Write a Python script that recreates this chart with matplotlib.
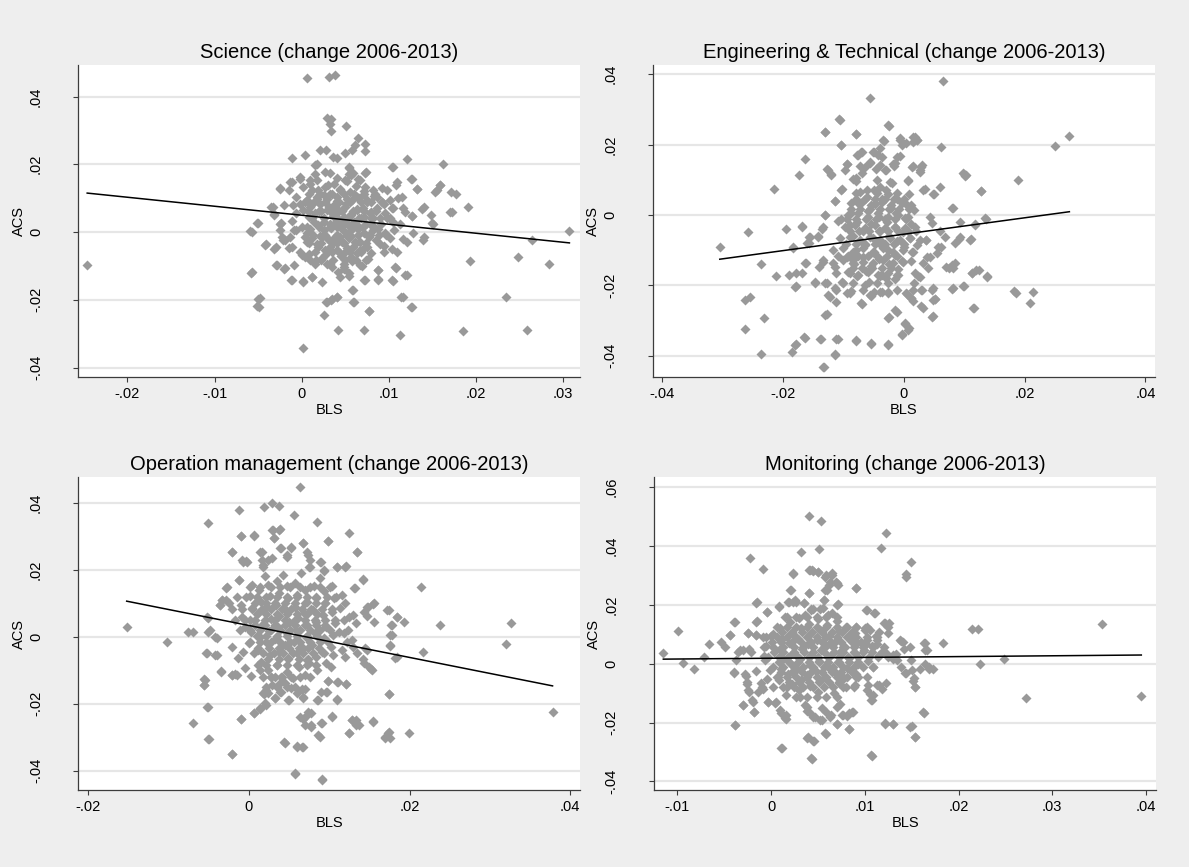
import matplotlib.pyplot as plt
import numpy as np

plt.rcParams['font.family'] = ['Liberation Sans', 'DejaVu Sans']

# BLS change (x), ACS change (y)
science_pts = [
    (-0.0246, -0.0098), (0.0006, 0.0456), (0.0031, 0.0458), (0.0038, 0.0465), (0.0029, 0.0338),
    (0.0034, 0.0335), (0.0032, 0.0318), (0.0034, 0.0297), (0.0051, 0.0312), (0.0064, 0.0277),
    (0.0061, 0.0256), (0.0073, 0.0261), (0.0073, 0.0239), (0.0021, 0.0243), (0.0028, 0.0243),
    (0.0036, 0.0221), (0.0040, 0.0218), (0.0004, 0.0228), (-0.0011, 0.0218), (0.0050, 0.0233),
    (0.0058, 0.0241), (0.0121, 0.0215), (0.0162, 0.0200), (0.0104, 0.0192), (0.0015, 0.0197),
    (0.0054, 0.0192), (0.0073, 0.0174), (0.0125, 0.0157), (0.0159, 0.0140), (0.0153, 0.0118),
    (0.0171, 0.0118), (0.0177, 0.0113), (0.0132, 0.0126), (0.0108, 0.0140), (0.0191, 0.0074),
    (0.0172, 0.0059), (0.0138, 0.0069), (0.0148, 0.0049), (0.0149, 0.0027), (0.0126, 0.0046),
    (0.0307, 0.0003), (0.0264, -0.0022), (0.0139, -0.0022), (0.0193, -0.0084), (0.0248, -0.0074),
    (0.0284, -0.0093), (0.0234, -0.0192), (0.0258, -0.0288), (0.0185, -0.0292), (0.0113, -0.0305),
    (0.0125, -0.0221), (0.0114, -0.0192), (0.0119, -0.0128), (0.0108, -0.0106), (0.0104, -0.0143),
    (0.0088, -0.0141), (0.0087, -0.0111), (0.0077, -0.0233), (0.0072, -0.0288), (0.0059, -0.0207),
    (0.0058, -0.0172), (0.0072, -0.0141), (0.0054, -0.0131), (0.0042, -0.0288), (0.0040, -0.0192),
    (0.0034, -0.0200), (0.0028, -0.0207), (0.0025, -0.0246), (0.0001, -0.0342), (0.0001, -0.0148),
    (0.0023, -0.0148), (0.0012, -0.0133), (-0.0012, -0.0141), (-0.0020, -0.0108), (-0.0009, -0.0098),
    (-0.0030, -0.0098), (-0.0050, -0.0197), (-0.0051, -0.0219), (-0.0058, -0.0121), (-0.0042, -0.0037),
    (-0.0032, -0.0049), (-0.0059, 0.0002), (-0.0050, 0.0027), (-0.0035, 0.0074), (-0.0032, 0.0051),
    (-0.0024, 0.0027), (-0.0025, 0.0128), (-0.0013, 0.0148), (-0.0020, 0.0079), (-0.0025, 0.0005),
    (-0.0021, -0.0023), (-0.0015, -0.0046), (-0.0009, 0.0005), (-0.0011, 0.0034), (-0.0007, 0.0056),
    (-0.0002, 0.0162), (0.0009, 0.0154), (0.0000, -0.0069), (0.0008, -0.0064), (0.0004, -0.0015),
    (0.0004, 0.0089), (0.0015, 0.0172),
]
science_core = [
    (0.0012, 0.0125), (0.0018, 0.0098), (0.0022, 0.0061), (0.0025, 0.0030), (0.0021, -0.0012),
    (0.0019, -0.0045), (0.0016, -0.0082), (0.0030, 0.0140), (0.0033, 0.0112), (0.0031, 0.0075),
    (0.0036, 0.0048), (0.0034, 0.0012), (0.0030, -0.0020), (0.0035, -0.0058), (0.0032, -0.0095),
    (0.0040, 0.0160), (0.0044, 0.0128), (0.0041, 0.0092), (0.0046, 0.0066), (0.0043, 0.0035),
    (0.0047, 0.0005), (0.0041, -0.0032), (0.0045, -0.0071), (0.0048, -0.0110), (0.0052, 0.0150),
    (0.0055, 0.0118), (0.0051, 0.0082), (0.0057, 0.0052), (0.0053, 0.0021), (0.0056, -0.0012),
    (0.0052, -0.0048), (0.0058, -0.0085), (0.0062, 0.0135), (0.0066, 0.0100), (0.0063, 0.0068),
    (0.0068, 0.0040), (0.0064, 0.0008), (0.0067, -0.0028), (0.0063, -0.0062), (0.0072, 0.0122),
    (0.0075, 0.0088), (0.0078, 0.0057), (0.0074, 0.0025), (0.0077, -0.0008), (0.0073, -0.0045),
    (0.0076, -0.0080), (0.0083, 0.0105), (0.0086, 0.0072), (0.0082, 0.0040), (0.0088, 0.0010),
    (0.0085, -0.0022), (0.0092, 0.0090), (0.0095, 0.0055), (0.0091, 0.0025), (0.0097, -0.0010),
    (0.0094, -0.0040), (0.0008, 0.0045), (0.0010, 0.0010), (0.0006, -0.0030), (0.0011, 0.0080),
    (0.0026, 0.0108), (0.0038, 0.0028), (0.0049, 0.0045), (0.0060, 0.0030), (0.0044, -0.0015),
    (0.0058, 0.0095), (0.0070, 0.0072), (0.0039, 0.0072), (0.0027, -0.0068), (0.0048, -0.0095),
    (0.0069, -0.0100), (0.0080, 0.0020), (0.0054, 0.0170), (0.0064, 0.0158), (0.0101, 0.0040),
    (0.0104, 0.0070), (0.0106, 0.0005), (0.0103, -0.0050), (0.0110, 0.0100), (0.0113, 0.0025),
    (0.0118, 0.0060), (0.0116, -0.0020),
    (0.0017, 0.0201), (0.0027, 0.0178), (0.0033, 0.0173), (0.0054, 0.0188), (0.0056, 0.0168),
    (0.0074, 0.0178), (0.0105, 0.0193), (0.0126, 0.0158), (0.0132, 0.0126), (0.0109, 0.0148),
    (0.0115, 0.0104), (0.0140, 0.0073), (0.0150, 0.0025), (0.0159, 0.0139), (0.0155, 0.0124),
    (0.0170, 0.0060), (0.0126, 0.0047), (0.0116, 0.0070), (0.0140, -0.0014), (0.0128, -0.0004),
    (0.0121, -0.0029), (0.0109, -0.0058), (0.0107, -0.0103), (0.0121, -0.0127), (0.0105, -0.0144),
    (0.0116, -0.0191), (0.0126, -0.0221), (0.0094, -0.0058), (0.0088, -0.0112), (0.0088, -0.0140),
    (0.0073, -0.0142), (0.0079, -0.0063), (0.0067, -0.0098), (0.0059, -0.0171), (0.0060, -0.0206),
    (0.0077, -0.0232), (0.0029, -0.0205), (0.0035, -0.0199), (0.0041, -0.0193), (0.0012, -0.0132),
    (0.0002, -0.0144), (-0.0011, -0.0142), (-0.0019, -0.0105), (-0.0028, -0.0098), (-0.0030, -0.0044),
    (-0.0041, -0.0034), (-0.0051, 0.0027), (-0.0057, 0.0001), (-0.0048, -0.0196), (-0.0049, -0.0221),
    (-0.0057, -0.0117), (-0.0025, 0.0025), (-0.0023, -0.0014), (-0.0019, -0.0024), (-0.0011, -0.0044),
    (-0.0002, -0.0058), (0.0004, -0.0073), (0.0010, -0.0083), (0.0015, -0.0093), (0.0023, -0.0078),
    (0.0029, -0.0093), (0.0035, -0.0103), (0.0042, -0.0117), (0.0048, -0.0103), (0.0044, -0.0132),
    (0.0054, -0.0120), (-0.0013, -0.0014), (-0.0006, 0.0006), (-0.0015, 0.0124), (-0.0025, 0.0129),
    (-0.0011, 0.0148), (-0.0002, 0.0158), (-0.0007, 0.0104), (-0.0010, 0.0079), (-0.0033, 0.0075),
    (-0.0032, 0.0053), (0.0002, 0.0134), (0.0010, 0.0143), (0.0017, 0.0153), (0.0019, 0.0124),
    (0.0027, 0.0134), (0.0037, 0.0143), (0.0044, 0.0124), (0.0050, 0.0153), (0.0059, 0.0173),
    (0.0067, 0.0153), (0.0073, 0.0134), (0.0082, 0.0124), (0.0092, 0.0129), (0.0098, 0.0124),
    (0.0086, 0.0104), (0.0101, 0.0094), (0.0094, 0.0084), (0.0105, 0.0070), (0.0098, 0.0040),
    (0.0105, 0.0030), (0.0096, -0.0004), (0.0101, -0.0019), (0.0090, -0.0034), (0.0082, 0.0006),
    (0.0077, -0.0014), (0.0071, -0.0004), (0.0075, -0.0043), (0.0067, -0.0053), (0.0059, -0.0043),
    (0.0056, -0.0073), (0.0048, -0.0063), (0.0040, -0.0053), (0.0033, -0.0043), (0.0027, -0.0053),
    (0.0017, -0.0034), (0.0012, -0.0019), (0.0006, -0.0004), (0.0000, 0.0016), (0.0002, 0.0065),
    (0.0010, 0.0075), (0.0015, 0.0055), (0.0021, 0.0084), (0.0029, 0.0065), (0.0037, 0.0080),
    (0.0042, 0.0060), (0.0050, 0.0075), (0.0056, 0.0050), (0.0063, 0.0065), (0.0071, 0.0045),
    (0.0079, 0.0060), (0.0033, 0.0025), (0.0040, 0.0016), (0.0048, 0.0030), (0.0056, 0.0006),
    (0.0063, 0.0020), (0.0025, 0.0006), (0.0019, 0.0021), (0.0014, 0.0030), (0.0023, -0.0014),
    (0.0031, -0.0024), (0.0038, -0.0014), (0.0046, -0.0029), (0.0054, -0.0019), (0.0061, -0.0029),
    (0.0017, 0.0104), (0.0029, 0.0099), (0.0040, 0.0104), (0.0052, 0.0099), (0.0063, 0.0104),
    (0.0075, 0.0094), (0.0006, 0.0094), (-0.0002, 0.0084),
    (0.0008, 0.0112), (0.0021, 0.0112), (0.0035, 0.0112), (0.0048, 0.0112), (0.0060, 0.0112),
    (0.0071, 0.0112), (0.0084, 0.0112), (0.0014, 0.0088), (0.0027, 0.0088), (0.0043, 0.0088),
    (0.0055, 0.0088), (0.0068, 0.0088), (0.0080, 0.0088), (0.0092, 0.0088), (0.0007, 0.0063),
    (0.0020, 0.0063), (0.0033, 0.0063), (0.0046, 0.0063), (0.0059, 0.0063), (0.0072, 0.0063),
    (0.0085, 0.0063), (0.0012, 0.0040), (0.0026, 0.0040), (0.0040, 0.0040), (0.0053, 0.0040),
    (0.0066, 0.0040), (0.0079, 0.0040), (0.0090, 0.0040), (0.0006, 0.0016), (0.0020, 0.0016),
    (0.0033, 0.0016), (0.0045, 0.0016), (0.0058, 0.0016), (0.0070, 0.0016), (0.0083, 0.0016),
    (0.0013, -0.0008), (0.0027, -0.0008), (0.0040, -0.0008), (0.0052, -0.0008), (0.0065, -0.0008),
    (0.0078, -0.0008), (0.0089, -0.0008), (0.0008, -0.0033), (0.0022, -0.0033), (0.0036, -0.0033),
    (0.0049, -0.0033), (0.0062, -0.0033), (0.0074, -0.0033), (0.0015, -0.0058), (0.0029, -0.0058),
    (0.0043, -0.0058), (0.0055, -0.0058), (0.0068, -0.0058), (0.0022, -0.0083), (0.0036, -0.0083),
    (0.0050, -0.0083), (0.0062, -0.0083), (0.0074, -0.0083),
]

engineering_pts = [
    (-0.0305, -0.0090), (-0.0258, -0.0050), (-0.0236, -0.0139), (-0.0215, 0.0074), (-0.0212, -0.0173),
    (-0.0264, -0.0243), (-0.0255, -0.0232), (-0.0264, -0.0324), (-0.0231, -0.0293), (-0.0236, -0.0395),
    (-0.0185, -0.0391), (-0.0179, -0.0367), (-0.0165, -0.0348), (-0.0133, -0.0433), (-0.0115, -0.0395),
    (-0.0138, -0.0352), (-0.0110, -0.0352), (-0.0079, -0.0357), (-0.0054, -0.0364), (-0.0027, -0.0367),
    (-0.0004, -0.0339), (0.0008, -0.0322), (0.0002, -0.0307), (-0.0014, -0.0270), (-0.0025, -0.0290),
    (0.0048, -0.0287), (0.0029, -0.0258), (0.0051, -0.0238), (0.0048, -0.0209), (0.0030, -0.0213),
    (0.0081, -0.0209), (0.0099, -0.0201), (0.0116, -0.0265), (0.0113, -0.0164), (0.0124, -0.0156),
    (0.0138, -0.0175), (0.0183, -0.0215), (0.0186, -0.0222), (0.0214, -0.0219), (0.0208, -0.0251),
    (0.0189, 0.0099), (0.0251, 0.0196), (0.0274, 0.0224), (0.0065, 0.0380), (0.0062, 0.0194),
    (0.0099, 0.0116), (0.0103, 0.0113), (0.0127, 0.0068), (0.0081, 0.0019), (0.0136, -0.0011),
    (0.0118, -0.0026), (0.0093, -0.0019), (0.0111, -0.0068), (0.0091, -0.0068), (0.0080, -0.0142),
    (0.0075, -0.0151), (0.0084, -0.0137), (0.0059, -0.0045), (0.0062, -0.0090), (0.0037, -0.0071),
    (0.0039, -0.0120), (0.0040, -0.0151), (0.0024, -0.0173), (0.0011, -0.0132), (0.0035, 0.0074),
    (0.0048, 0.0060), (0.0007, 0.0096), (0.0030, 0.0142), (0.0027, 0.0128), (0.0015, 0.0139),
    (0.0018, 0.0222), (0.0021, 0.0213), (0.0015, 0.0208), (-0.0006, 0.0219), (-0.0004, 0.0199),
    (-0.0025, 0.0253), (-0.0033, 0.0210), (-0.0039, 0.0189), (-0.0049, 0.0180), (-0.0036, 0.0165),
    (-0.0006, 0.0168), (-0.0014, 0.0147), (-0.0017, 0.0140), (-0.0031, 0.0128), (-0.0046, 0.0130),
    (-0.0056, 0.0147), (-0.0057, 0.0331), (-0.0079, 0.0229), (-0.0077, 0.0170), (-0.0071, 0.0180),
    (-0.0073, 0.0140), (-0.0084, 0.0102), (-0.0080, 0.0095), (-0.0106, 0.0271), (-0.0105, 0.0199),
    (-0.0095, 0.0145), (-0.0130, 0.0236), (-0.0127, 0.0130), (-0.0120, 0.0116), (-0.0105, 0.0071),
    (-0.0115, 0.0040), (-0.0130, 0.0000), (-0.0109, -0.0017), (-0.0105, -0.0011), (-0.0164, 0.0158),
    (-0.0174, 0.0113), (-0.0169, -0.0033), (-0.0195, -0.0041), (-0.0158, -0.0064), (-0.0158, -0.0080),
    (-0.0183, -0.0095), (-0.0162, -0.0137), (-0.0169, -0.0165), (-0.0191, -0.0170), (-0.0179, -0.0203),
    (-0.0148, -0.0194), (-0.0143, -0.0060), (-0.0136, -0.0041), (-0.0130, -0.0194), (-0.0128, -0.0282),
    (-0.0125, -0.0229), (-0.0112, -0.0249), (-0.0115, -0.0208), (-0.0103, -0.0192), (-0.0094, -0.0222),
    (-0.0087, -0.0215), (-0.0071, -0.0251), (-0.0068, -0.0213), (-0.0055, -0.0230), (-0.0049, -0.0220),
    (-0.0036, -0.0219), (-0.0027, -0.0220), (-0.0027, -0.0194), (-0.0039, -0.0175), (-0.0014, -0.0183),
    (-0.0011, -0.0172), (0.0005, -0.0224), (0.0011, -0.0236), (0.0015, -0.0246), (0.0016, -0.0194),
    (0.0018, -0.0165), (-0.0134, -0.0128), (-0.0141, -0.0147), (-0.0115, -0.0147), (-0.0109, -0.0118),
    (-0.0090, -0.0165), (-0.0084, -0.0128), (-0.0077, -0.0175),
]
engineering_core = [
    (-0.0085, -0.0060), (-0.0080, -0.0100), (-0.0082, -0.0140), (-0.0078, -0.0020), (-0.0075, 0.0030),
    (-0.0072, 0.0065), (-0.0068, -0.0045), (-0.0065, -0.0085), (-0.0067, -0.0120), (-0.0063, -0.0160),
    (-0.0060, 0.0010), (-0.0062, 0.0050), (-0.0055, -0.0025), (-0.0052, -0.0065), (-0.0050, -0.0105),
    (-0.0054, -0.0145), (-0.0048, 0.0030), (-0.0050, 0.0070), (-0.0042, -0.0005), (-0.0040, -0.0045),
    (-0.0038, -0.0085), (-0.0041, -0.0125), (-0.0037, -0.0170), (-0.0036, 0.0045), (-0.0039, 0.0080),
    (-0.0028, -0.0020), (-0.0025, -0.0060), (-0.0027, -0.0100), (-0.0024, -0.0140), (-0.0022, 0.0020),
    (-0.0026, 0.0060), (-0.0015, -0.0035), (-0.0012, -0.0075), (-0.0014, -0.0115), (-0.0010, -0.0155),
    (-0.0013, 0.0005), (-0.0011, 0.0045), (-0.0002, -0.0050), (0.0000, -0.0090), (-0.0003, -0.0130),
    (0.0002, -0.0010), (0.0004, 0.0030), (0.0010, -0.0065), (0.0013, -0.0105), (0.0012, -0.0025),
    (0.0016, 0.0015), (0.0020, -0.0045), (0.0022, -0.0085), (-0.0090, -0.0030), (-0.0095, -0.0120),
    (-0.0088, 0.0005), (-0.0058, -0.0190), (-0.0030, -0.0180), (-0.0045, 0.0100), (-0.0020, 0.0090),
    (0.0008, 0.0060),
    (-0.0107, 0.0272), (-0.0131, 0.0236), (-0.0079, 0.0230), (-0.0026, 0.0255), (-0.0105, 0.0200),
    (-0.0070, 0.0180), (-0.0076, 0.0170), (-0.0051, 0.0180), (-0.0043, 0.0170), (-0.0034, 0.0213),
    (-0.0007, 0.0213), (0.0004, 0.0203), (0.0015, 0.0222), (0.0021, 0.0213), (-0.0012, 0.0165),
    (-0.0018, 0.0146), (-0.0029, 0.0127), (-0.0040, 0.0142), (-0.0057, 0.0151), (-0.0065, 0.0137),
    (-0.0070, 0.0118), (-0.0079, 0.0104), (-0.0095, 0.0146), (-0.0098, 0.0127), (-0.0126, 0.0127),
    (-0.0120, 0.0113), (0.0014, 0.0137), (0.0029, 0.0137), (0.0026, 0.0123), (0.0007, 0.0099),
    (-0.0023, 0.0094), (0.0060, 0.0080), (0.0032, 0.0071), (0.0049, 0.0058), (0.0097, 0.0118),
    (0.0101, 0.0110), (0.0127, 0.0068), (-0.0103, 0.0073), (-0.0114, 0.0039), (-0.0131, 0.0000),
    (-0.0169, -0.0034), (-0.0183, -0.0092), (-0.0134, -0.0034), (-0.0142, -0.0062), (-0.0156, -0.0062),
    (-0.0161, -0.0081), (-0.0178, -0.0166), (-0.0181, -0.0204), (-0.0164, -0.0138), (-0.0148, -0.0190),
    (-0.0128, -0.0195), (-0.0131, -0.0285), (-0.0164, -0.0351), (-0.0181, -0.0370), (-0.0139, -0.0354),
    (-0.0112, -0.0354), (-0.0114, -0.0399), (-0.0134, -0.0432), (-0.0080, -0.0358), (-0.0054, -0.0367),
    (-0.0026, -0.0370), (-0.0026, -0.0294), (-0.0012, -0.0275), (0.0001, -0.0309), (0.0007, -0.0326),
    (-0.0004, -0.0342), (0.0031, -0.0266), (0.0047, -0.0290), (0.0051, -0.0240), (0.0115, -0.0266),
    (0.0080, -0.0212), (0.0098, -0.0202), (0.0081, -0.0152), (0.0070, -0.0147), (0.0112, -0.0164),
    (0.0120, -0.0157), (0.0137, -0.0176), (0.0093, -0.0062), (0.0109, -0.0072), (0.0084, -0.0081),
    (0.0079, 0.0019), (0.0118, -0.0029), (0.0134, -0.0010), (0.0068, -0.0062), (0.0057, -0.0090),
    (0.0054, -0.0109), (0.0037, -0.0072), (0.0043, -0.0119), (0.0032, -0.0138), (0.0026, -0.0176),
    (0.0046, -0.0024), (0.0043, -0.0005), (0.0015, -0.0214), (0.0029, -0.0214), (0.0046, -0.0214),
    (0.0048, -0.0242), (0.0004, -0.0223), (0.0012, -0.0237), (-0.0012, -0.0214), (-0.0026, -0.0223),
    (-0.0040, -0.0219), (-0.0057, -0.0228), (-0.0070, -0.0252), (-0.0090, -0.0223), (-0.0101, -0.0195),
    (-0.0112, -0.0214), (-0.0123, -0.0233),
    (-0.0079, 0.0061), (-0.0062, 0.0071), (-0.0045, 0.0061), (-0.0029, 0.0071), (-0.0012, 0.0061),
    (-0.0087, 0.0033), (-0.0070, 0.0037), (-0.0054, 0.0028), (-0.0037, 0.0037), (-0.0021, 0.0028),
    (-0.0004, 0.0033), (0.0012, 0.0028), (-0.0092, 0.0000), (-0.0076, 0.0004), (-0.0059, -0.0005),
    (-0.0043, 0.0004), (-0.0026, -0.0005), (-0.0010, 0.0000), (0.0007, -0.0005), (-0.0098, -0.0034),
    (-0.0081, -0.0029), (-0.0065, -0.0038), (-0.0048, -0.0029), (-0.0032, -0.0038), (-0.0015, -0.0034),
    (0.0001, -0.0038), (0.0018, -0.0034), (-0.0106, -0.0067), (-0.0090, -0.0062), (-0.0073, -0.0072),
    (-0.0057, -0.0062), (-0.0040, -0.0072), (-0.0023, -0.0067), (-0.0007, -0.0072), (0.0010, -0.0067),
    (0.0026, -0.0072), (-0.0117, -0.0100), (-0.0101, -0.0095), (-0.0084, -0.0105), (-0.0068, -0.0095),
    (-0.0051, -0.0105), (-0.0034, -0.0095), (-0.0018, -0.0105), (-0.0001, -0.0100), (0.0015, -0.0105),
    (-0.0134, -0.0133), (-0.0117, -0.0138), (-0.0101, -0.0128), (-0.0084, -0.0138), (-0.0068, -0.0133),
    (-0.0051, -0.0138), (-0.0034, -0.0128), (-0.0018, -0.0138), (-0.0001, -0.0133), (-0.0112, -0.0166),
    (-0.0092, -0.0162), (-0.0076, -0.0171), (-0.0059, -0.0162), (-0.0043, -0.0171), (-0.0026, -0.0166),
    (-0.0010, -0.0171), (-0.0084, -0.0195), (-0.0065, -0.0200), (-0.0045, -0.0195),
    (-0.0080, 0.0045), (-0.0064, 0.0045), (-0.0048, 0.0045), (-0.0032, 0.0045), (-0.0016, 0.0045),
    (0.0000, 0.0045), (-0.0088, 0.0017), (-0.0072, 0.0017), (-0.0056, 0.0017), (-0.0040, 0.0017),
    (-0.0024, 0.0017), (-0.0008, 0.0017), (0.0008, 0.0017), (-0.0095, -0.0012), (-0.0079, -0.0012),
    (-0.0063, -0.0012), (-0.0047, -0.0012), (-0.0031, -0.0012), (-0.0015, -0.0012), (0.0003, -0.0012),
    (-0.0090, -0.0045), (-0.0074, -0.0045), (-0.0058, -0.0045), (-0.0042, -0.0045), (-0.0026, -0.0045),
    (-0.0010, -0.0045), (0.0006, -0.0045), (-0.0096, -0.0082), (-0.0080, -0.0082), (-0.0064, -0.0082),
    (-0.0048, -0.0082), (-0.0032, -0.0082), (-0.0016, -0.0082), (0.0000, -0.0082), (-0.0092, -0.0118),
    (-0.0076, -0.0118), (-0.0060, -0.0118), (-0.0044, -0.0118), (-0.0028, -0.0118), (-0.0012, -0.0118),
    (-0.0085, -0.0150), (-0.0069, -0.0150), (-0.0053, -0.0150), (-0.0037, -0.0150), (-0.0021, -0.0150),
]

operation_pts = [
    (-0.0152, 0.0028), (-0.0102, -0.0017), (-0.0076, 0.0015), (-0.0069, 0.0015), (-0.0051, 0.0055),
    (-0.0051, 0.0015), (-0.0052, -0.0050), (-0.0056, -0.0127), (-0.0056, -0.0144), (-0.0051, -0.0209),
    (-0.0051, -0.0306), (-0.0070, -0.0259), (-0.0051, 0.0338), (-0.0040, -0.0055), (-0.0035, -0.0104),
    (-0.0040, -0.0005), (-0.0036, 0.0095), (-0.0033, 0.0109), (-0.0025, 0.0100), (-0.0027, 0.0147),
    (-0.0021, 0.0254), (-0.0021, -0.0350), (-0.0021, -0.0114), (-0.0017, -0.0111), (-0.0021, -0.0030),
    (-0.0012, 0.0378), (-0.0010, 0.0300), (-0.0012, 0.0169), (-0.0010, -0.0247), (-0.0014, -0.0065),
    (-0.0007, -0.0045), (-0.0005, -0.0095), (0.0003, -0.0116), (0.0007, -0.0227), (0.0014, -0.0217),
    (0.0021, -0.0204), (0.0019, -0.0172), (-0.0007, 0.0224), (-0.0002, 0.0222), (0.0007, 0.0300),
    (0.0004, 0.0154), (0.0019, 0.0386), (0.0029, 0.0400), (0.0038, 0.0390), (0.0030, 0.0318),
    (0.0037, 0.0320), (0.0031, 0.0294), (0.0017, 0.0254), (0.0024, 0.0229), (0.0018, 0.0209),
    (0.0040, 0.0264), (0.0047, 0.0239), (0.0052, 0.0264), (0.0056, 0.0363), (0.0067, 0.0279),
    (0.0064, 0.0448), (0.0085, 0.0343), (0.0074, 0.0244), (0.0075, 0.0209), (0.0090, 0.0224),
    (0.0094, 0.0199), (0.0099, 0.0286), (0.0110, 0.0209), (0.0120, 0.0209), (0.0125, 0.0310),
    (0.0135, 0.0252), (0.0142, 0.0169), (0.0132, 0.0144), (0.0148, 0.0090), (0.0156, 0.0100),
    (0.0156, 0.0045), (0.0147, 0.0062), (0.0172, 0.0080), (0.0177, 0.0035), (0.0176, 0.0005),
    (0.0185, 0.0058), (0.0193, 0.0045), (0.0214, 0.0147), (0.0238, 0.0035), (0.0326, 0.0042),
    (0.0320, -0.0023), (0.0217, -0.0045), (0.0176, -0.0028), (0.0182, -0.0065), (0.0174, -0.0172),
    (0.0173, -0.0287), (0.0170, -0.0303), (0.0199, -0.0289), (0.0155, -0.0254), (0.0147, -0.0040),
    (0.0142, -0.0068), (0.0150, -0.0092), (0.0152, -0.0098), (0.0135, -0.0048), (0.0121, -0.0141),
    (0.0110, -0.0134), (0.0110, -0.0187), (0.0104, -0.0237), (0.0125, -0.0287), (0.0128, -0.0249),
    (0.0133, -0.0249), (0.0137, -0.0264), (0.0102, -0.0092), (0.0098, -0.0131), (0.0096, -0.0164),
    (0.0090, -0.0164), (0.0086, -0.0189), (0.0090, -0.0259), (0.0088, -0.0299), (0.0077, -0.0227),
    (0.0071, -0.0237), (0.0067, -0.0247), (0.0077, -0.0264), (0.0068, -0.0179), (0.0066, -0.0157),
    (0.0070, -0.0114), (0.0075, -0.0080), (0.0091, -0.0428), (0.0057, -0.0408), (0.0060, -0.0326),
    (0.0067, -0.0330), (0.0044, -0.0316), (0.0050, -0.0189), (0.0052, -0.0154), (0.0045, -0.0139),
    (0.0032, -0.0184), (0.0024, -0.0169), (0.0029, -0.0144), (0.0033, -0.0119), (0.0040, -0.0119),
    (0.0024, -0.0100), (0.0014, -0.0100), (0.0378, -0.0224), (0.0176, -0.0303), (0.0040, -0.0164),
    (0.0055, -0.0124),
]
operation_core = [
    (0.0002, 0.0120), (0.0004, 0.0085), (0.0001, 0.0050), (0.0003, 0.0015), (0.0000, -0.0020),
    (0.0013, 0.0140), (0.0015, 0.0105), (0.0012, 0.0070), (0.0016, 0.0035), (0.0014, 0.0000),
    (0.0011, -0.0040), (0.0015, -0.0075), (0.0024, 0.0155), (0.0026, 0.0120), (0.0023, 0.0088),
    (0.0027, 0.0052), (0.0025, 0.0018), (0.0022, -0.0015), (0.0026, -0.0055), (0.0028, -0.0120),
    (0.0035, 0.0165), (0.0037, 0.0130), (0.0034, 0.0095), (0.0038, 0.0062), (0.0036, 0.0028),
    (0.0033, -0.0008), (0.0037, -0.0045), (0.0035, -0.0085), (0.0038, -0.0140), (0.0047, 0.0150),
    (0.0049, 0.0115), (0.0046, 0.0080), (0.0050, 0.0045), (0.0048, 0.0010), (0.0045, -0.0025),
    (0.0049, -0.0065), (0.0047, -0.0105), (0.0058, 0.0160), (0.0060, 0.0125), (0.0057, 0.0090),
    (0.0061, 0.0055), (0.0059, 0.0020), (0.0056, -0.0015), (0.0060, -0.0050), (0.0062, -0.0090),
    (0.0070, 0.0140), (0.0072, 0.0105), (0.0069, 0.0070), (0.0073, 0.0035), (0.0071, 0.0000),
    (0.0068, -0.0035), (0.0072, -0.0070), (0.0081, 0.0150), (0.0083, 0.0115), (0.0080, 0.0080),
    (0.0084, 0.0045), (0.0082, 0.0010), (0.0079, -0.0025), (0.0083, -0.0060), (0.0085, -0.0100),
    (0.0093, 0.0135), (0.0095, 0.0100), (0.0092, 0.0065), (0.0096, 0.0030), (0.0094, -0.0005),
    (0.0091, -0.0045), (0.0096, -0.0080), (0.0104, 0.0150), (0.0106, 0.0115), (0.0103, 0.0075),
    (0.0107, 0.0040), (0.0105, 0.0005), (0.0102, -0.0030), (0.0116, 0.0125), (0.0114, 0.0085),
    (0.0118, 0.0050), (0.0112, 0.0015), (0.0120, 0.0100), (0.0125, 0.0060), (0.0042, 0.0185),
    (0.0065, 0.0190), (0.0088, 0.0175), (0.0020, 0.0180), (-0.0008, 0.0060), (-0.0010, 0.0095),
    (-0.0005, 0.0030),
    (-0.0010, 0.0300), (0.0006, 0.0304), (0.0029, 0.0318), (0.0039, 0.0323), (0.0031, 0.0294),
    (0.0067, 0.0281), (0.0099, 0.0287), (0.0135, 0.0254), (-0.0021, 0.0254), (-0.0008, 0.0229),
    (-0.0003, 0.0227), (0.0014, 0.0254), (0.0016, 0.0229), (0.0018, 0.0214), (0.0029, 0.0234),
    (0.0039, 0.0264), (0.0048, 0.0244), (0.0053, 0.0267), (0.0072, 0.0254), (0.0076, 0.0229),
    (0.0089, 0.0224), (0.0076, 0.0207), (0.0110, 0.0207), (0.0121, 0.0211), (0.0094, 0.0197),
    (0.0142, 0.0171), (0.0131, 0.0144), (-0.0012, 0.0169), (-0.0028, 0.0144), (-0.0034, 0.0109),
    (-0.0036, 0.0094), (-0.0028, 0.0109), (-0.0052, 0.0058), (-0.0048, 0.0020), (-0.0042, 0.0000),
    (-0.0053, -0.0050), (-0.0042, -0.0055), (-0.0035, -0.0105), (-0.0021, -0.0115), (-0.0015, -0.0115),
    (-0.0054, -0.0130), (-0.0056, -0.0145), (-0.0052, -0.0211), (-0.0050, -0.0307), (-0.0021, -0.0351),
    (-0.0010, -0.0247), (0.0006, -0.0227), (0.0014, -0.0214), (0.0020, -0.0199), (0.0018, -0.0169),
    (0.0022, -0.0160), (0.0032, -0.0184), (0.0039, -0.0164), (0.0049, -0.0189), (0.0060, -0.0169),
    (0.0068, -0.0184), (0.0070, -0.0155), (0.0064, -0.0239), (0.0074, -0.0224), (0.0070, -0.0264),
    (0.0078, -0.0271), (0.0086, -0.0294), (0.0091, -0.0259), (0.0045, -0.0319), (0.0060, -0.0329),
    (0.0066, -0.0331), (0.0057, -0.0409), (0.0091, -0.0424), (0.0085, -0.0188), (0.0097, -0.0165),
    (0.0110, -0.0188), (0.0098, -0.0132), (0.0111, -0.0135), (0.0121, -0.0142), (0.0104, -0.0239),
    (0.0128, -0.0249), (0.0134, -0.0264), (0.0125, -0.0287), (0.0155, -0.0251), (0.0169, -0.0299),
    (0.0174, -0.0284), (0.0174, -0.0172), (0.0105, -0.0055), (0.0120, -0.0060), (0.0116, -0.0040),
    (0.0118, 0.0010), (0.0124, 0.0020), (0.0130, 0.0065), (0.0134, 0.0040), (0.0143, 0.0074),
    (0.0147, 0.0089), (0.0155, 0.0099), (0.0145, -0.0035), (0.0153, -0.0100), (0.0143, -0.0080),
    (0.0174, 0.0079), (0.0178, 0.0035), (0.0178, 0.0005), (0.0176, -0.0025), (0.0184, 0.0060),
    (0.0184, -0.0060), (0.0130, -0.0030), (0.0128, -0.0010), (0.0122, -0.0015),
    (0.0002, 0.0149), (0.0014, 0.0149), (0.0027, 0.0149), (0.0039, 0.0149), (0.0051, 0.0149),
    (0.0064, 0.0149), (0.0076, 0.0149), (0.0089, 0.0149), (0.0101, 0.0149),
    (-0.0015, 0.0119), (-0.0003, 0.0119), (0.0010, 0.0119), (0.0022, 0.0119), (0.0035, 0.0119),
    (0.0047, 0.0119), (0.0060, 0.0119), (0.0072, 0.0119), (0.0084, 0.0119), (0.0097, 0.0119),
    (0.0109, 0.0119),
    (-0.0021, 0.0084), (-0.0009, 0.0084), (0.0004, 0.0084), (0.0016, 0.0084), (0.0028, 0.0084),
    (0.0041, 0.0084), (0.0053, 0.0084), (0.0066, 0.0084), (0.0078, 0.0084), (0.0091, 0.0084),
    (0.0103, 0.0084),
    (-0.0017, 0.0050), (-0.0005, 0.0050), (0.0008, 0.0050), (0.0020, 0.0050), (0.0033, 0.0050),
    (0.0045, 0.0050), (0.0057, 0.0050), (0.0070, 0.0050), (0.0082, 0.0050), (0.0095, 0.0050),
    (0.0107, 0.0050),
    (-0.0011, 0.0020), (0.0002, 0.0020), (0.0014, 0.0020), (0.0027, 0.0020), (0.0039, 0.0020),
    (0.0051, 0.0020), (0.0064, 0.0020), (0.0076, 0.0020), (0.0089, 0.0020), (0.0101, 0.0020),
    (0.0002, -0.0015), (0.0014, -0.0015), (0.0027, -0.0015), (0.0039, -0.0015), (0.0051, -0.0015),
    (0.0064, -0.0015), (0.0076, -0.0015), (0.0089, -0.0015), (0.0099, -0.0015),
    (0.0006, -0.0050), (0.0018, -0.0050), (0.0031, -0.0050), (0.0043, -0.0050), (0.0055, -0.0050),
    (0.0068, -0.0050), (0.0080, -0.0050), (0.0093, -0.0050),
    (0.0012, -0.0085), (0.0022, -0.0085), (0.0035, -0.0085), (0.0047, -0.0085), (0.0060, -0.0085),
    (0.0072, -0.0085), (0.0084, -0.0085),
    (0.0018, -0.0120), (0.0028, -0.0120), (0.0041, -0.0120), (0.0053, -0.0120), (0.0064, -0.0120),
    (0.0076, -0.0120), (0.0022, -0.0150), (0.0035, -0.0150), (0.0047, -0.0150), (0.0057, -0.0150),
    (0.0008, 0.0101), (0.0021, 0.0101), (0.0033, 0.0101), (0.0045, 0.0101), (0.0058, 0.0101),
    (0.0070, 0.0101), (0.0083, 0.0101), (0.0095, 0.0101), (0.0010, 0.0067), (0.0022, 0.0067),
    (0.0035, 0.0067), (0.0047, 0.0067), (0.0060, 0.0067), (0.0072, 0.0067), (0.0085, 0.0067),
    (0.0008, 0.0034), (0.0020, 0.0034), (0.0033, 0.0034), (0.0045, 0.0034), (0.0058, 0.0034),
    (0.0070, 0.0034), (0.0083, 0.0034), (0.0095, 0.0034), (0.0010, 0.0002), (0.0022, 0.0002),
    (0.0035, 0.0002), (0.0047, 0.0002), (0.0060, 0.0002), (0.0072, 0.0002), (0.0085, 0.0002),
    (0.0012, -0.0033), (0.0025, -0.0033), (0.0037, -0.0033), (0.0050, -0.0033), (0.0062, -0.0033),
    (0.0074, -0.0033), (0.0087, -0.0033), (0.0024, -0.0068), (0.0037, -0.0068), (0.0049, -0.0068),
    (0.0062, -0.0068), (0.0074, -0.0068),
]

monitoring_pts = [
    (-0.0115, 0.0036), (-0.0099, 0.0111), (-0.0094, 0.0003), (-0.0082, -0.0020), (-0.0072, 0.0023),
    (-0.0066, 0.0068), (-0.0053, 0.0074), (-0.0049, 0.0057), (-0.0044, 0.0096), (-0.0039, 0.0142),
    (-0.0040, -0.0028), (-0.0039, -0.0210), (-0.0035, 0.0040), (-0.0030, -0.0142), (-0.0030, 0.0045),
    (-0.0027, -0.0042), (-0.0026, -0.0068), (-0.0025, -0.0091), (-0.0025, 0.0102), (-0.0022, 0.0359),
    (-0.0021, 0.0040), (-0.0020, -0.0125), (-0.0018, -0.0164), (-0.0016, 0.0142), (-0.0016, 0.0204),
    (-0.0016, -0.0025), (-0.0016, 0.0096), (-0.0011, -0.0066), (-0.0009, -0.0085), (-0.0009, 0.0091),
    (-0.0009, 0.0320), (-0.0007, 0.0011), (-0.0004, 0.0176), (-0.0004, -0.0051), (-0.0003, -0.0130),
    (-0.0001, -0.0023), (0.0002, -0.0079), (0.0002, 0.0100), (0.0005, -0.0130), (0.0007, -0.0045),
    (0.0008, 0.0195), (0.0009, -0.0159), (0.0011, 0.0085), (0.0012, -0.0286), (0.0015, 0.0159),
    (0.0016, -0.0176), (0.0016, -0.0187), (0.0017, -0.0079), (0.0016, -0.0108), (0.0019, 0.0210),
    (0.0021, 0.0249), (0.0023, 0.0304), (0.0023, 0.0210), (0.0027, 0.0210), (0.0031, -0.0113),
    (0.0032, 0.0380), (0.0035, 0.0204), (0.0036, 0.0164), (0.0036, -0.0142), (0.0038, -0.0162),
    (0.0039, -0.0249), (0.0040, 0.0238), (0.0040, 0.0499), (0.0042, 0.0317), (0.0043, 0.0181),
    (0.0044, 0.0317), (0.0046, -0.0264), (0.0044, -0.0325), (0.0045, -0.0181), (0.0050, 0.0312),
    (0.0051, 0.0388), (0.0053, 0.0484), (0.0054, -0.0150), (0.0054, -0.0190), (0.0055, 0.0187),
    (0.0056, 0.0215), (0.0057, 0.0295), (0.0059, -0.0238), (0.0060, 0.0249), (0.0061, 0.0164),
    (0.0062, 0.0266), (0.0064, -0.0176), (0.0065, 0.0300), (0.0067, -0.0100), (0.0069, 0.0278),
    (0.0070, -0.0204), (0.0071, 0.0201), (0.0071, 0.0266), (0.0073, -0.0136), (0.0076, -0.0176),
    (0.0080, -0.0079), (0.0081, -0.0179), (0.0083, -0.0221), (0.0087, -0.0164), (0.0089, -0.0074),
    (0.0091, 0.0255), (0.0093, -0.0045), (0.0101, 0.0181), (0.0103, -0.0074), (0.0106, -0.0102),
    (0.0108, -0.0312), (0.0108, -0.0125), (0.0111, 0.0172), (0.0109, -0.0011), (0.0115, -0.0074),
    (0.0117, 0.0391), (0.0118, -0.0085), (0.0121, -0.0204), (0.0123, 0.0444), (0.0126, 0.0136),
    (0.0130, -0.0204), (0.0133, 0.0034), (0.0138, 0.0079), (0.0144, 0.0295), (0.0144, 0.0304),
    (0.0149, 0.0346), (0.0150, -0.0213), (0.0151, -0.0060), (0.0154, -0.0079), (0.0154, -0.0249),
    (0.0144, -0.0032), (0.0142, 0.0048), (0.0163, -0.0167), (0.0164, 0.0070), (0.0164, 0.0045),
    (0.0159, -0.0020), (0.0168, -0.0020), (0.0173, -0.0017), (0.0183, 0.0070), (0.0214, 0.0117),
    (0.0221, 0.0117), (0.0223, -0.0002), (0.0248, 0.0017), (0.0272, -0.0116), (0.0353, 0.0134),
    (0.0395, -0.0110), (0.0149, 0.0011), (0.0130, 0.0014), (0.0125, 0.0104), (0.0121, 0.0136),
    (0.0115, 0.0108), (0.0113, 0.0068), (0.0101, 0.0068),
]
monitoring_core = [
    (0.0010, 0.0120), (0.0012, 0.0085), (0.0009, 0.0050), (0.0013, 0.0015), (0.0011, -0.0020),
    (0.0008, -0.0055), (0.0020, 0.0140), (0.0022, 0.0105), (0.0019, 0.0070), (0.0023, 0.0035),
    (0.0021, 0.0000), (0.0018, -0.0035), (0.0022, -0.0070), (0.0030, 0.0155), (0.0032, 0.0120),
    (0.0029, 0.0085), (0.0033, 0.0050), (0.0031, 0.0015), (0.0028, -0.0020), (0.0032, -0.0055),
    (0.0030, -0.0090), (0.0040, 0.0135), (0.0042, 0.0100), (0.0039, 0.0065), (0.0043, 0.0030),
    (0.0041, -0.0005), (0.0038, -0.0040), (0.0042, -0.0075), (0.0050, 0.0150), (0.0052, 0.0115),
    (0.0049, 0.0080), (0.0053, 0.0045), (0.0051, 0.0010), (0.0048, -0.0025), (0.0052, -0.0060),
    (0.0050, -0.0095), (0.0060, 0.0130), (0.0062, 0.0095), (0.0059, 0.0060), (0.0063, 0.0025),
    (0.0061, -0.0010), (0.0058, -0.0045), (0.0070, 0.0145), (0.0072, 0.0110), (0.0069, 0.0075),
    (0.0073, 0.0040), (0.0071, 0.0005), (0.0068, -0.0030), (0.0072, -0.0065), (0.0080, 0.0125),
    (0.0082, 0.0090), (0.0079, 0.0055), (0.0083, 0.0020), (0.0081, -0.0015), (0.0078, -0.0050),
    (0.0090, 0.0105), (0.0092, 0.0070), (0.0089, 0.0035), (0.0093, 0.0000), (0.0091, -0.0035),
    (0.0100, 0.0115), (0.0102, 0.0080), (0.0099, 0.0045), (0.0103, 0.0010), (0.0108, 0.0060),
    (0.0112, 0.0095), (0.0115, 0.0030), (-0.0005, 0.0060), (-0.0008, 0.0025), (0.0000, 0.0095),
    (0.0045, 0.0185), (0.0065, 0.0170),
    (0.0023, 0.0306), (0.0040, 0.0317), (0.0045, 0.0315), (0.0050, 0.0312), (0.0059, 0.0300),
    (0.0065, 0.0306), (0.0070, 0.0272), (0.0063, 0.0278), (0.0058, 0.0250), (0.0056, 0.0216),
    (0.0091, 0.0255), (0.0020, 0.0250), (0.0040, 0.0240), (0.0025, 0.0216), (0.0018, 0.0210),
    (0.0035, 0.0207), (-0.0015, 0.0210), (-0.0004, 0.0176), (0.0008, 0.0191), (0.0070, 0.0199),
    (0.0052, 0.0184), (0.0043, 0.0184), (0.0102, 0.0182), (0.0110, 0.0173), (-0.0040, 0.0142),
    (-0.0015, 0.0145), (-0.0025, 0.0102), (-0.0016, 0.0097), (-0.0044, 0.0097), (0.0120, 0.0136),
    (0.0125, 0.0125), (0.0091, 0.0125), (0.0139, 0.0078), (0.0148, 0.0057), (0.0163, 0.0071),
    (0.0166, 0.0046), (-0.0033, 0.0046), (-0.0024, 0.0051), (-0.0037, 0.0012), (-0.0040, -0.0031),
    (-0.0028, -0.0036), (-0.0026, -0.0062), (-0.0024, -0.0095), (-0.0030, -0.0141), (-0.0019, -0.0130),
    (-0.0018, -0.0163), (-0.0039, -0.0209), (-0.0010, -0.0079), (-0.0014, -0.0095), (-0.0003, -0.0130),
    (0.0004, -0.0135), (0.0011, -0.0169), (0.0015, -0.0186), (0.0011, -0.0288), (0.0038, -0.0147),
    (0.0041, -0.0169), (0.0047, -0.0180), (0.0052, -0.0192), (0.0059, -0.0163), (0.0063, -0.0180),
    (0.0070, -0.0147), (0.0077, -0.0175), (0.0083, -0.0169), (0.0086, -0.0163), (0.0058, -0.0237),
    (0.0070, -0.0205), (0.0083, -0.0223), (0.0038, -0.0254), (0.0045, -0.0262), (0.0043, -0.0322),
    (0.0107, -0.0310), (0.0122, -0.0203), (0.0130, -0.0205), (0.0148, -0.0216), (0.0154, -0.0248),
    (0.0162, -0.0163), (0.0107, -0.0124), (0.0109, -0.0107), (0.0102, -0.0090), (0.0113, -0.0073),
    (0.0123, -0.0067), (0.0139, -0.0010), (0.0143, -0.0033), (0.0150, -0.0022), (0.0152, -0.0050),
    (0.0154, -0.0079), (0.0134, 0.0012), (0.0130, 0.0029), (0.0141, 0.0074), (0.0164, 0.0000),
    (0.0169, -0.0011), (0.0123, 0.0035), (0.0118, 0.0040), (0.0113, 0.0080), (0.0106, 0.0114),
    (0.0100, 0.0119),
    (0.0017, 0.0159), (0.0027, 0.0159), (0.0038, 0.0159), (0.0049, 0.0159), (0.0059, 0.0159),
    (0.0070, 0.0159),
    (0.0006, 0.0125), (0.0017, 0.0125), (0.0027, 0.0125), (0.0038, 0.0125), (0.0049, 0.0125),
    (0.0059, 0.0125), (0.0070, 0.0125), (0.0081, 0.0125), (0.0091, 0.0125), (0.0102, 0.0125),
    (-0.0005, 0.0091), (0.0006, 0.0091), (0.0017, 0.0091), (0.0027, 0.0091), (0.0038, 0.0091),
    (0.0049, 0.0091), (0.0059, 0.0091), (0.0070, 0.0091), (0.0081, 0.0091), (0.0091, 0.0091),
    (0.0102, 0.0091), (0.0113, 0.0091),
    (-0.0008, 0.0057), (0.0002, 0.0057), (0.0013, 0.0057), (0.0024, 0.0057), (0.0034, 0.0057),
    (0.0045, 0.0057), (0.0056, 0.0057), (0.0066, 0.0057), (0.0077, 0.0057), (0.0088, 0.0057),
    (0.0098, 0.0057), (0.0109, 0.0057), (0.0120, 0.0057),
    (-0.0003, 0.0023), (0.0008, 0.0023), (0.0018, 0.0023), (0.0029, 0.0023), (0.0040, 0.0023),
    (0.0050, 0.0023), (0.0061, 0.0023), (0.0072, 0.0023), (0.0082, 0.0023), (0.0093, 0.0023),
    (0.0104, 0.0023), (0.0114, 0.0023), (0.0125, 0.0023),
    (0.0002, -0.0011), (0.0013, -0.0011), (0.0024, -0.0011), (0.0034, -0.0011), (0.0045, -0.0011),
    (0.0056, -0.0011), (0.0066, -0.0011), (0.0077, -0.0011), (0.0088, -0.0011), (0.0098, -0.0011),
    (0.0109, -0.0011),
    (0.0006, -0.0045), (0.0017, -0.0045), (0.0027, -0.0045), (0.0038, -0.0045), (0.0049, -0.0045),
    (0.0059, -0.0045), (0.0070, -0.0045), (0.0081, -0.0045), (0.0091, -0.0045), (0.0102, -0.0045),
    (0.0013, -0.0078), (0.0024, -0.0078), (0.0034, -0.0078), (0.0045, -0.0078), (0.0056, -0.0078),
    (0.0066, -0.0078), (0.0077, -0.0078), (0.0088, -0.0078),
    (0.0027, -0.0112), (0.0038, -0.0112), (0.0049, -0.0112), (0.0059, -0.0112), (0.0070, -0.0112),
    (0.0012, 0.0108), (0.0022, 0.0108), (0.0033, 0.0108), (0.0044, 0.0108), (0.0054, 0.0108),
    (0.0065, 0.0108), (0.0076, 0.0108), (0.0086, 0.0108), (0.0001, 0.0074), (0.0011, 0.0074),
    (0.0022, 0.0074), (0.0032, 0.0074), (0.0043, 0.0074), (0.0054, 0.0074), (0.0064, 0.0074),
    (0.0075, 0.0074), (0.0086, 0.0074), (0.0096, 0.0074), (0.0003, 0.0040), (0.0013, 0.0040),
    (0.0024, 0.0040), (0.0035, 0.0040), (0.0045, 0.0040), (0.0056, 0.0040), (0.0067, 0.0040),
    (0.0077, 0.0040), (0.0088, 0.0040), (0.0098, 0.0040), (0.0108, 0.0040), (0.0008, 0.0006),
    (0.0019, 0.0006), (0.0029, 0.0006), (0.0040, 0.0006), (0.0051, 0.0006), (0.0061, 0.0006),
    (0.0072, 0.0006), (0.0083, 0.0006), (0.0093, 0.0006), (0.0011, -0.0028), (0.0022, -0.0028),
    (0.0033, -0.0028), (0.0043, -0.0028), (0.0054, -0.0028), (0.0065, -0.0028), (0.0075, -0.0028),
    (0.0086, -0.0028), (0.0019, -0.0062), (0.0030, -0.0062), (0.0040, -0.0062), (0.0051, -0.0062),
    (0.0062, -0.0062), (0.0072, -0.0062),
]

# fitted line ends (lfit)
science_fit = ([-0.0246, 0.0307], [0.0115, -0.0032])
engineering_fit = ([-0.0305, 0.0274], [-0.0126, 0.0009])
operation_fit = ([-0.0152, 0.0378], [0.0106, -0.0147])
monitoring_fit = ([-0.0115, 0.0395], [0.0015, 0.0029])

titles = ['Science (change 2006-2013)', 'Engineering & Technical (change 2006-2013)',
          'Operation management (change 2006-2013)', 'Monitoring (change 2006-2013)']

science_xticks = [-0.02, -0.01, 0, 0.01, 0.02, 0.03]
science_xlabels = ['-.02', '-.01', '0', '.01', '.02', '.03']
engineering_xticks = [-0.04, -0.02, 0, 0.02, 0.04]
engineering_xlabels = ['-.04', '-.02', '0', '.02', '.04']
operation_xticks = [-0.02, 0, 0.02, 0.04]
operation_xlabels = ['-.02', '0', '.02', '.04']
monitoring_xticks = [-0.01, 0, 0.01, 0.02, 0.03, 0.04]
monitoring_xlabels = ['-.01', '0', '.01', '.02', '.03', '.04']

yticks_04 = [-0.04, -0.02, 0, 0.02, 0.04]
ylabels_04 = ['-.04', '-.02', '0', '.02', '.04']
yticks_06 = [-0.04, -0.02, 0, 0.02, 0.04, 0.06]
ylabels_06 = ['-.04', '-.02', '0', '.02', '.04', '.06']

bg = '#eeeeee'
marker_col = '#999999'
axis_col = '#3c3c3c'

fig = plt.figure(figsize=(11.89, 8.67), dpi=100, facecolor=bg)

panels = [
    (science_pts + science_core, science_fit, science_xticks, science_xlabels, yticks_04, ylabels_04,
     (-0.0256, 0.0319), (-0.0427, 0.0493), [0.066, 0.5655, 0.4217, 0.3595]),
    (engineering_pts + engineering_core, engineering_fit, engineering_xticks, engineering_xlabels,
     yticks_04, ylabels_04, (-0.0416, 0.0416), (-0.0460, 0.0426), [0.549, 0.5655, 0.4225, 0.3595]),
    (operation_pts + operation_core, operation_fit, operation_xticks, operation_xlabels, yticks_04, ylabels_04,
     (-0.0212, 0.0412), (-0.0458, 0.0476), [0.066, 0.0888, 0.4217, 0.3607]),
    (monitoring_pts + monitoring_core, monitoring_fit, monitoring_xticks, monitoring_xlabels,
     yticks_06, ylabels_06, (-0.0125, 0.0411), (-0.0429, 0.0632), [0.550, 0.0888, 0.4225, 0.3607]),
]

for i, (pts, fit, xt, xl, yt, yl, xlim, ylim, rect) in enumerate(panels):
    ax = fig.add_axes(rect)
    ax.set_facecolor('white')
    pts = np.array(pts)

    for v in yt:
        ax.axhline(v, color='#e6e6e6', lw=1.6, zorder=0)

    ax.plot(pts[:, 0], pts[:, 1], 'D', ms=5.6, color=marker_col, mec='none', zorder=2)
    ax.plot(fit[0], fit[1], color='black', lw=1.1, zorder=3)

    ax.set_xlim(*xlim)
    ax.set_ylim(*ylim)
    ax.set_xticks(xt)
    ax.set_xticklabels(xl)
    ax.set_yticks(yt)
    ax.set_yticklabels(yl, rotation=90, va='center')

    for s in ['top', 'right']:
        ax.spines[s].set_visible(False)
    for s in ['left', 'bottom']:
        ax.spines[s].set_color(axis_col)
        ax.spines[s].set_linewidth(0.9)

    ax.tick_params(axis='x', direction='out', length=3.6, width=0.8, color=axis_col,
                   labelsize=10.5, pad=3.5)
    ax.tick_params(axis='y', direction='out', length=3.6, width=0.8, color=axis_col,
                   labelsize=10.5, pad=22)

    ax.set_title(titles[i], fontsize=14.5, pad=5)
    ax.set_xlabel('BLS', fontsize=10.5, va='center')
    ax.xaxis.set_label_coords(0.5, -0.106)
    ax.set_ylabel('ACS', fontsize=10.5, va='center')
    ax.yaxis.set_label_coords(-0.119, 0.5)

fig.savefig('out.png', dpi=100, facecolor=bg)
